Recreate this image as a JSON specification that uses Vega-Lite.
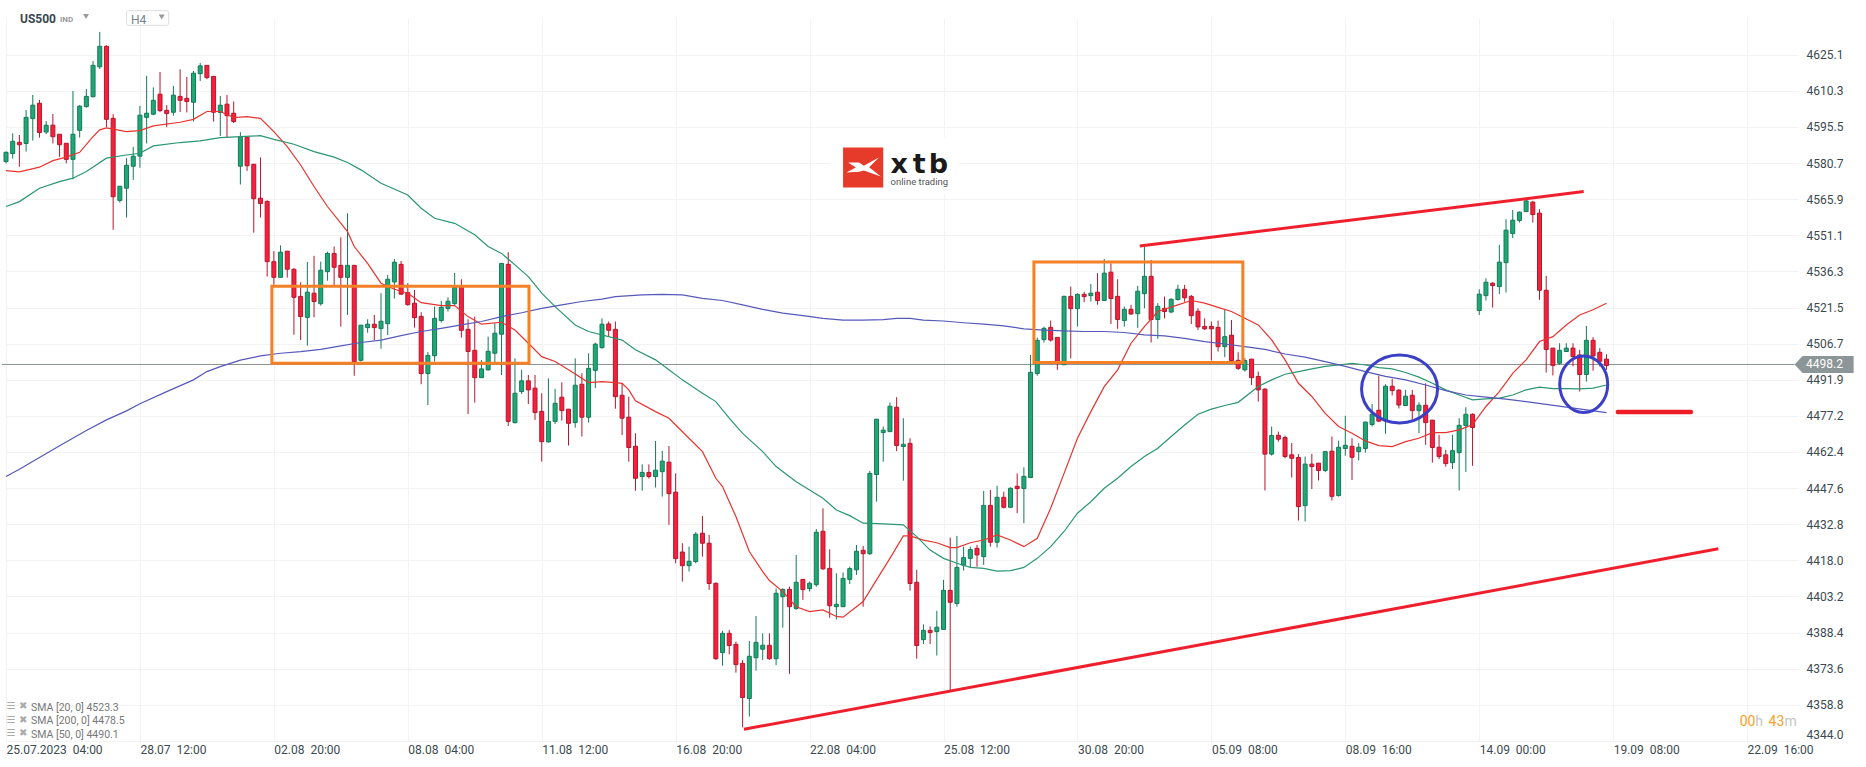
{
  "$schema": "https://vega.github.io/schema/vega-lite/v6.json",
  "width": 1792,
  "height": 723,
  "autosize": {"type": "none"},
  "padding": {"left": 6, "top": 18, "right": 68, "bottom": 26},
  "background": "#ffffff",
  "config": {
    "font": "Roboto",
    "view": {"stroke": null},
    "axis": {"domain": false, "ticks": false, "title": null, "grid": true, "gridColor": "#f3f3f3", "gridWidth": 1, "labelColor": "#3b4a50", "labelFontSize": 12, "labelFont": "Roboto"}
  },
  "datasets": {
    "candles": [
      {"i":0,"o":4581.3,"h":4585.4,"l":4580.5,"c":4585.1},{"i":1,"o":4584.6,"h":4592.9,"l":4582.5,"c":4589.6},{"i":2,"o":4589.2,"h":4592.2,"l":4579.2,"c":4588.2},{"i":3,"o":4588.7,"h":4602.4,"l":4585.4,"c":4599.4},{"i":4,"o":4598.9,"h":4608.6,"l":4589.9,"c":4604.4},
      {"i":5,"o":4605.2,"h":4606.5,"l":4591.1,"c":4593.2},{"i":6,"o":4593.4,"h":4597.9,"l":4592.6,"c":4596.2},{"i":7,"o":4596.2,"h":4600.8,"l":4588.7,"c":4591.5},{"i":8,"o":4592.5,"h":4592.5,"l":4583.2,"c":4588.2},{"i":9,"o":4588.8,"h":4588.8,"l":4580.6,"c":4582.2},
      {"i":10,"o":4582.2,"h":4610.2,"l":4574,"c":4592.5},{"i":11,"o":4594.1,"h":4604.4,"l":4591.1,"c":4604},{"i":12,"o":4603.8,"h":4611,"l":4603.4,"c":4608},{"i":13,"o":4607.9,"h":4622.5,"l":4607.5,"c":4620.7},{"i":14,"o":4620.1,"h":4634.4,"l":4619.2,"c":4628.5},
      {"i":15,"o":4628.5,"h":4628.9,"l":4595.5,"c":4598.6},{"i":16,"o":4599,"h":4600.7,"l":4553.4,"c":4566.9},{"i":17,"o":4565.4,"h":4571.3,"l":4564.5,"c":4571.2},{"i":18,"o":4570.4,"h":4582.7,"l":4558.4,"c":4579.8},{"i":19,"o":4579.4,"h":4587.3,"l":4573.8,"c":4583.5},
      {"i":20,"o":4583.5,"h":4604.1,"l":4578.8,"c":4600.3},{"i":21,"o":4599.4,"h":4616.4,"l":4588.7,"c":4601.1},{"i":22,"o":4600.7,"h":4611.7,"l":4600.3,"c":4606.4},{"i":23,"o":4608.9,"h":4618,"l":4601.5,"c":4602.2},{"i":24,"o":4602.3,"h":4604.4,"l":4595.4,"c":4601},
      {"i":25,"o":4601.5,"h":4612.3,"l":4600.1,"c":4608.5},{"i":26,"o":4608,"h":4619.1,"l":4601.6,"c":4606.4},{"i":27,"o":4607.2,"h":4616,"l":4601.4,"c":4605.9},{"i":28,"o":4605.6,"h":4618.4,"l":4597.7,"c":4617.5},{"i":29,"o":4617.3,"h":4621.7,"l":4614.3,"c":4620.5},
      {"i":30,"o":4620.7,"h":4620.7,"l":4615,"c":4615.7},{"i":31,"o":4616.2,"h":4616.2,"l":4597.7,"c":4601.5},{"i":32,"o":4601.4,"h":4608.2,"l":4591.8,"c":4604.4},{"i":33,"o":4604.8,"h":4608.6,"l":4591.1,"c":4600.1},{"i":34,"o":4601.1,"h":4605.9,"l":4597.1,"c":4597.7},
      {"i":35,"o":4579.4,"h":4593.3,"l":4571.9,"c":4591.5},{"i":36,"o":4591.3,"h":4591.5,"l":4577.5,"c":4579.6},{"i":37,"o":4580.2,"h":4580.3,"l":4552.2,"c":4566.1},{"i":38,"o":4566.3,"h":4583,"l":4558.4,"c":4564.1},{"i":39,"o":4565,"h":4565.4,"l":4534.2,"c":4540.3},
      {"i":40,"o":4540.3,"h":4544.6,"l":4530.8,"c":4533.9},{"i":41,"o":4533.9,"h":4547,"l":4533.8,"c":4544.2},{"i":42,"o":4544.6,"h":4544.6,"l":4533.8,"c":4537.2},{"i":43,"o":4537.2,"h":4537.6,"l":4510.4,"c":4525.7},{"i":44,"o":4526.1,"h":4531.9,"l":4508.2,"c":4517.8},
      {"i":45,"o":4517.5,"h":4540.2,"l":4505.9,"c":4527.8},{"i":46,"o":4527.4,"h":4542.7,"l":4517.5,"c":4524},{"i":47,"o":4523.1,"h":4540.3,"l":4522.3,"c":4536.8},{"i":48,"o":4536.2,"h":4544.4,"l":4532.5,"c":4543.7},{"i":49,"o":4543.7,"h":4546.5,"l":4530.1,"c":4538},
      {"i":50,"o":4538.8,"h":4550.3,"l":4513.7,"c":4533.9},{"i":51,"o":4533.9,"h":4560.1,"l":4518.5,"c":4538.8},{"i":52,"o":4538.8,"h":4538.8,"l":4493.6,"c":4499.4},{"i":53,"o":4499.9,"h":4514.4,"l":4499.4,"c":4514.3},{"i":54,"o":4513.3,"h":4516.7,"l":4511.2,"c":4514.7},
      {"i":55,"o":4514.7,"h":4518.5,"l":4508.2,"c":4513.3},{"i":56,"o":4512.9,"h":4527.4,"l":4504.7,"c":4515.9},{"i":57,"o":4514.9,"h":4534.9,"l":4510.3,"c":4533.1},{"i":58,"o":4532,"h":4541.4,"l":4525.2,"c":4540.1},{"i":59,"o":4539.2,"h":4540.6,"l":4526.7,"c":4527},
      {"i":60,"o":4527.6,"h":4531.5,"l":4522.3,"c":4522.7},{"i":61,"o":4523.3,"h":4528.7,"l":4513.3,"c":4517.4},{"i":62,"o":4517.9,"h":4519.6,"l":4490.1,"c":4494.5},{"i":63,"o":4494.5,"h":4503.3,"l":4481.6,"c":4501.9},{"i":64,"o":4501.8,"h":4521.9,"l":4499.4,"c":4517.1},
      {"i":65,"o":4516.2,"h":4524.2,"l":4515.4,"c":4521.6},{"i":66,"o":4521.1,"h":4525.7,"l":4519.9,"c":4524.1},{"i":67,"o":4523.1,"h":4535.7,"l":4522.6,"c":4529.8},{"i":68,"o":4529.8,"h":4533.1,"l":4509.2,"c":4512.2},{"i":69,"o":4512.6,"h":4516.7,"l":4477.9,"c":4503.5},
      {"i":70,"o":4504,"h":4517.8,"l":4482.6,"c":4492.8},{"i":71,"o":4492.8,"h":4500,"l":4492.7,"c":4496.4},{"i":72,"o":4496,"h":4509.6,"l":4495.7,"c":4503.6},{"i":73,"o":4502.8,"h":4515.1,"l":4498.7,"c":4511},{"i":74,"o":4510.6,"h":4539.6,"l":4493.9,"c":4539.6},
      {"i":75,"o":4539.2,"h":4544.2,"l":4473,"c":4474.9},{"i":76,"o":4474.4,"h":4500.7,"l":4474,"c":4486.4},{"i":77,"o":4487.1,"h":4496,"l":4486.1,"c":4491.5},{"i":78,"o":4491.5,"h":4493.9,"l":4482,"c":4487.8},{"i":79,"o":4488.5,"h":4493.9,"l":4475.5,"c":4478.5},
      {"i":80,"o":4479,"h":4486.4,"l":4458.4,"c":4466.6},{"i":81,"o":4466.5,"h":4492.5,"l":4466.2,"c":4474.9},{"i":82,"o":4474.9,"h":4488.2,"l":4473.8,"c":4482.3},{"i":83,"o":4484.8,"h":4490.9,"l":4475.2,"c":4479.3},{"i":84,"o":4479.9,"h":4479.9,"l":4465,"c":4474.1},
      {"i":85,"o":4474.4,"h":4500.7,"l":4472.3,"c":4489.7},{"i":86,"o":4490.1,"h":4494.6,"l":4468.7,"c":4476.6},{"i":87,"o":4476.6,"h":4502.8,"l":4474.4,"c":4496.6},{"i":88,"o":4495.8,"h":4507.2,"l":4488.5,"c":4506.5},{"i":89,"o":4505.1,"h":4517.1,"l":4504.7,"c":4514.7},
      {"i":90,"o":4514.8,"h":4515.8,"l":4509.6,"c":4512.2},{"i":91,"o":4512.6,"h":4515.8,"l":4480.1,"c":4485},{"i":92,"o":4485.6,"h":4490.5,"l":4469.3,"c":4476.2},{"i":93,"o":4476.6,"h":4485,"l":4458.4,"c":4464.2},{"i":94,"o":4464.7,"h":4470,"l":4446.5,"c":4451.6},
      {"i":95,"o":4452.3,"h":4457.3,"l":4446.5,"c":4454},{"i":96,"o":4454,"h":4457.3,"l":4451.5,"c":4452.3},{"i":97,"o":4452.3,"h":4466.9,"l":4447.8,"c":4454.9},{"i":98,"o":4454.3,"h":4462.8,"l":4444.1,"c":4458.6},{"i":99,"o":4458.2,"h":4464.8,"l":4432.5,"c":4445.3},
      {"i":100,"o":4445.9,"h":4453.6,"l":4416.8,"c":4418.7},{"i":101,"o":4421.4,"h":4425,"l":4409.3,"c":4415.8},{"i":102,"o":4415.8,"h":4423.6,"l":4413.4,"c":4417.6},{"i":103,"o":4417.5,"h":4429.5,"l":4416.8,"c":4428.7},{"i":104,"o":4429.1,"h":4436.2,"l":4419.5,"c":4425},
      {"i":105,"o":4425,"h":4428.4,"l":4405.9,"c":4408.5},{"i":106,"o":4408.6,"h":4408.9,"l":4377.2,"c":4377.7},{"i":107,"o":4380.2,"h":4389.1,"l":4374.9,"c":4388.1},{"i":108,"o":4388.1,"h":4389.5,"l":4379.5,"c":4383.1},{"i":109,"o":4383.6,"h":4384.7,"l":4372,"c":4375.3},
      {"i":110,"o":4375.8,"h":4377.2,"l":4349.6,"c":4361.8},{"i":111,"o":4361.4,"h":4385,"l":4354,"c":4378.7},{"i":112,"o":4378.1,"h":4395.2,"l":4372.8,"c":4384.4},{"i":113,"o":4381.6,"h":4388.1,"l":4377.2,"c":4383.2},{"i":114,"o":4383.2,"h":4388.1,"l":4377.2,"c":4377.7},
      {"i":115,"o":4377.7,"h":4406.5,"l":4375.1,"c":4404.5},{"i":116,"o":4403.1,"h":4406.5,"l":4390.4,"c":4406.1},{"i":117,"o":4406.1,"h":4407.2,"l":4371.5,"c":4399},{"i":118,"o":4398.3,"h":4420.2,"l":4397.7,"c":4409},{"i":119,"o":4410.2,"h":4410.2,"l":4401.8,"c":4406},
      {"i":120,"o":4406.4,"h":4409.3,"l":4405.2,"c":4408.6},{"i":121,"o":4408,"h":4430.8,"l":4407.2,"c":4429.5},{"i":122,"o":4429.9,"h":4439.3,"l":4414.1,"c":4414.5},{"i":123,"o":4414.7,"h":4422.5,"l":4394.5,"c":4399.4},{"i":124,"o":4399,"h":4412.7,"l":4393.8,"c":4400},
      {"i":125,"o":4399,"h":4413,"l":4398.9,"c":4410.6},{"i":126,"o":4410.2,"h":4415.4,"l":4408.3,"c":4414.6},{"i":127,"o":4414.1,"h":4424.3,"l":4412,"c":4421.7},{"i":128,"o":4422.1,"h":4423.9,"l":4399,"c":4420.7},{"i":129,"o":4420.7,"h":4454.6,"l":4420.2,"c":4453.6},
      {"i":130,"o":4453.1,"h":4475.9,"l":4442,"c":4475.8},{"i":131,"o":4470.3,"h":4472.8,"l":4458.4,"c":4471.3},{"i":132,"o":4470.7,"h":4482.6,"l":4470.6,"c":4481.1},{"i":133,"o":4480.7,"h":4484.8,"l":4462.7,"c":4465},{"i":134,"o":4464.6,"h":4476.2,"l":4450.6,"c":4465.5},
      {"i":135,"o":4465.9,"h":4468,"l":4405.6,"c":4408.5},{"i":136,"o":4409,"h":4414.1,"l":4377.7,"c":4383.1},{"i":137,"o":4385.5,"h":4391.8,"l":4383.7,"c":4389.3},{"i":138,"o":4389.3,"h":4390.9,"l":4383.7,"c":4388.4},{"i":139,"o":4388.8,"h":4397.3,"l":4379,"c":4390.6},
      {"i":140,"o":4389.7,"h":4410,"l":4389.6,"c":4405.7},{"i":141,"o":4405.7,"h":4427.3,"l":4364.2,"c":4400.8},{"i":142,"o":4400.3,"h":4428,"l":4399,"c":4415.1},{"i":143,"o":4416,"h":4423.6,"l":4413.8,"c":4419.1},{"i":144,"o":4418.8,"h":4423.6,"l":4415.1,"c":4422.4},
      {"i":145,"o":4422.9,"h":4424.3,"l":4415.4,"c":4420.2},{"i":146,"o":4419.5,"h":4446.4,"l":4416.1,"c":4440.5},{"i":147,"o":4440.5,"h":4446.8,"l":4423.6,"c":4425.4},{"i":148,"o":4425.4,"h":4448.5,"l":4423.2,"c":4443.8},{"i":149,"o":4443.8,"h":4446.1,"l":4439.3,"c":4439.7},
      {"i":150,"o":4439.7,"h":4447.9,"l":4439.6,"c":4447.5},{"i":151,"o":4448.3,"h":4453.6,"l":4437.3,"c":4447.4},{"i":152,"o":4447.4,"h":4456.1,"l":4433.2,"c":4452.4},{"i":153,"o":4451.9,"h":4502.1,"l":4451.7,"c":4495},{"i":154,"o":4494.5,"h":4509.2,"l":4493.6,"c":4508.1},
      {"i":155,"o":4508.4,"h":4513.7,"l":4507.2,"c":4513},{"i":156,"o":4513.4,"h":4516.2,"l":4507.6,"c":4508.2},{"i":157,"o":4509.3,"h":4509.3,"l":4496,"c":4499.4},{"i":158,"o":4498.1,"h":4526.4,"l":4498,"c":4526.1},{"i":159,"o":4526.1,"h":4530.1,"l":4500.7,"c":4521.1},
      {"i":160,"o":4521.1,"h":4527.4,"l":4513.7,"c":4526.9},{"i":161,"o":4526.9,"h":4528,"l":4523.7,"c":4526},{"i":162,"o":4526.4,"h":4531.2,"l":4524,"c":4527.4},{"i":163,"o":4527.8,"h":4535.6,"l":4522.7,"c":4524.4},{"i":164,"o":4524.4,"h":4541.4,"l":4524.2,"c":4535.6},
      {"i":165,"o":4536,"h":4539.6,"l":4514.8,"c":4525.2},{"i":166,"o":4526.1,"h":4533.1,"l":4512.8,"c":4516.6},{"i":167,"o":4516.2,"h":4521.9,"l":4513.7,"c":4520.8},{"i":168,"o":4520.8,"h":4522.6,"l":4518.5,"c":4518.9},{"i":169,"o":4519,"h":4530.4,"l":4513.2,"c":4528.2},
      {"i":170,"o":4527.2,"h":4546.7,"l":4521.2,"c":4534.3},{"i":171,"o":4534.3,"h":4541,"l":4507.2,"c":4516.6},{"i":172,"o":4516.6,"h":4523.3,"l":4508.7,"c":4522},{"i":173,"o":4521.2,"h":4526,"l":4517.1,"c":4519.9},{"i":174,"o":4519.7,"h":4525.3,"l":4519.2,"c":4524.9},
      {"i":175,"o":4524.8,"h":4530.8,"l":4524.4,"c":4529},{"i":176,"o":4529,"h":4530.8,"l":4523.9,"c":4525.5},{"i":177,"o":4526.1,"h":4526.7,"l":4514.8,"c":4518.2},{"i":178,"o":4520,"h":4521.2,"l":4512.3,"c":4513.6},{"i":179,"o":4513.8,"h":4517.1,"l":4512.3,"c":4512.8},
      {"i":180,"o":4513.8,"h":4515.8,"l":4499.8,"c":4512.8},{"i":181,"o":4513.4,"h":4516.2,"l":4503.5,"c":4505.5},{"i":182,"o":4505.5,"h":4520.5,"l":4501.2,"c":4509.6},{"i":183,"o":4510.2,"h":4516.4,"l":4499.4,"c":4499.8},{"i":184,"o":4499.9,"h":4503.2,"l":4496,"c":4496.6},
      {"i":185,"o":4496,"h":4500.8,"l":4495.3,"c":4499.8},{"i":186,"o":4500.4,"h":4500.5,"l":4489.8,"c":4492.8},{"i":187,"o":4493.3,"h":4495.3,"l":4483,"c":4487.8},{"i":188,"o":4488.1,"h":4488.5,"l":4446.6,"c":4461.5},{"i":189,"o":4461.5,"h":4472.8,"l":4460.9,"c":4469.1},
      {"i":190,"o":4469.2,"h":4470.7,"l":4466.6,"c":4467.6},{"i":191,"o":4468.3,"h":4469.1,"l":4459.8,"c":4460.5},{"i":192,"o":4461.2,"h":4466,"l":4451.9,"c":4459.8},{"i":193,"o":4460.1,"h":4461.5,"l":4434.3,"c":4440},{"i":194,"o":4440.4,"h":4460.5,"l":4433.9,"c":4457.4},
      {"i":195,"o":4457.4,"h":4461.6,"l":4447.2,"c":4456.4},{"i":196,"o":4457.8,"h":4457.8,"l":4450.7,"c":4454.8},{"i":197,"o":4454.8,"h":4462.8,"l":4454.1,"c":4462.5},{"i":198,"o":4462.7,"h":4468.7,"l":4442.5,"c":4444.2},{"i":199,"o":4444.5,"h":4467,"l":4444.1,"c":4464.3},
      {"i":200,"o":4463.8,"h":4477.2,"l":4460.8,"c":4465.1},{"i":201,"o":4464.7,"h":4468,"l":4450.9,"c":4460.2},{"i":202,"o":4462.5,"h":4466,"l":4458.9,"c":4464.3},{"i":203,"o":4463.8,"h":4474.8,"l":4462.1,"c":4474.6},{"i":204,"o":4473.6,"h":4482,"l":4472.8,"c":4477.8},
      {"i":205,"o":4479.5,"h":4493.7,"l":4474.6,"c":4475},{"i":206,"o":4475.2,"h":4490.1,"l":4469.8,"c":4489.3},{"i":207,"o":4489.3,"h":4492.3,"l":4485.5,"c":4487.5},{"i":208,"o":4487.7,"h":4488.1,"l":4480.2,"c":4481.6},{"i":209,"o":4481.4,"h":4487.8,"l":4481.2,"c":4485.2},
      {"i":210,"o":4485.6,"h":4487.8,"l":4475.5,"c":4479.3},{"i":211,"o":4479.3,"h":4482.7,"l":4470.1,"c":4481.5},{"i":212,"o":4481.5,"h":4490.5,"l":4465.3,"c":4474.4},{"i":213,"o":4475.4,"h":4475.5,"l":4458,"c":4464.2},{"i":214,"o":4464.3,"h":4469.4,"l":4459.4,"c":4460.5},
      {"i":215,"o":4461.2,"h":4463.2,"l":4456.4,"c":4457.6},{"i":216,"o":4458,"h":4469.4,"l":4455.4,"c":4462.9},{"i":217,"o":4462.1,"h":4476.2,"l":4446.6,"c":4473.3},{"i":218,"o":4473.2,"h":4480.7,"l":4454.2,"c":4477.8},{"i":219,"o":4477.8,"h":4478.2,"l":4456.7,"c":4472.4},
      {"i":220,"o":4520.3,"h":4529,"l":4518.5,"c":4527},{"i":221,"o":4526.4,"h":4533.5,"l":4524.4,"c":4531.9},{"i":222,"o":4531.5,"h":4531.9,"l":4521.5,"c":4530.5},{"i":223,"o":4530.1,"h":4547.2,"l":4527.1,"c":4540.1},{"i":224,"o":4539.9,"h":4557.7,"l":4527.7,"c":4553.2},
      {"i":225,"o":4551.8,"h":4561.5,"l":4550,"c":4557.3},{"i":226,"o":4557.2,"h":4560.8,"l":4556.3,"c":4560.6},{"i":227,"o":4560.8,"h":4565.6,"l":4560.7,"c":4565.2},{"i":228,"o":4564.7,"h":4565.2,"l":4556.3,"c":4559.6},{"i":229,"o":4560.2,"h":4561.8,"l":4524.7,"c":4528.6},
      {"i":230,"o":4528.6,"h":4534.5,"l":4494.9,"c":4504.3},{"i":231,"o":4504.9,"h":4504.9,"l":4493.7,"c":4497.8},{"i":232,"o":4498.7,"h":4506.9,"l":4498,"c":4504},{"i":233,"o":4503.5,"h":4506.9,"l":4503.4,"c":4504.9},{"i":234,"o":4504.9,"h":4506.9,"l":4497.4,"c":4501.4},
      {"i":235,"o":4502.1,"h":4504.2,"l":4487.1,"c":4494.1},{"i":236,"o":4494.1,"h":4514,"l":4491.2,"c":4508.1},{"i":237,"o":4508.1,"h":4509.4,"l":4495.6,"c":4501.7},{"i":238,"o":4503.2,"h":4504.9,"l":4497.4,"c":4499.5},{"i":239,"o":4500.4,"h":4502.4,"l":4496,"c":4497.8}
    ],
    "sma": [
      {"s":"20","i":0,"v":4577.6},{"s":"20","i":2,"v":4577.1},{"s":"20","i":5,"v":4579},{"s":"20","i":7,"v":4581.7},{"s":"20","i":9,"v":4583.1},{"s":"20","i":11,"v":4585.1},{"s":"20","i":13,"v":4591.5},{"s":"20","i":14,"v":4594.3},{"s":"20","i":15,"v":4595.1},{"s":"20","i":18,"v":4593.6},{"s":"20","i":20,"v":4594},{"s":"20","i":22,"v":4595.9},{"s":"20","i":26,"v":4597.4},{"s":"20","i":28,"v":4598.6},{"s":"20","i":30,"v":4601.8},{"s":"20","i":32,"v":4601.8},{"s":"20","i":34,"v":4599.3},{"s":"20","i":36,"v":4599.7},{"s":"20","i":38,"v":4599},{"s":"20","i":40,"v":4593.6},{"s":"20","i":42,"v":4587.4},{"s":"20","i":44,"v":4579.9},{"s":"20","i":46,"v":4571.1},{"s":"20","i":48,"v":4562.9},{"s":"20","i":51,"v":4552.6},{"s":"20","i":52,"v":4546.5},{"s":"20","i":54,"v":4539.6},{"s":"20","i":56,"v":4531.5},{"s":"20","i":58,"v":4529},{"s":"20","i":60,"v":4527.4},{"s":"20","i":62,"v":4523.5},{"s":"20","i":65,"v":4522.3},{"s":"20","i":67,"v":4522.3},{"s":"20","i":69,"v":4517.8},{"s":"20","i":71,"v":4514.7},{"s":"20","i":74,"v":4515.5},{"s":"20","i":76,"v":4512.3},{"s":"20","i":78,"v":4506.9},{"s":"20","i":80,"v":4501.4},{"s":"20","i":82,"v":4499.4},{"s":"20","i":84,"v":4496},{"s":"20","i":87,"v":4490.8},{"s":"20","i":89,"v":4491.2},{"s":"20","i":91,"v":4490.8},
      {"s":"20","i":92,"v":4490.5},{"s":"20","i":93,"v":4487.8},{"s":"20","i":94,"v":4483.3},{"s":"20","i":97,"v":4478.9},{"s":"20","i":99,"v":4476.2},{"s":"20","i":102,"v":4468},{"s":"20","i":104,"v":4462.5},{"s":"20","i":106,"v":4451.6},{"s":"20","i":107,"v":4448.2},{"s":"20","i":109,"v":4435.9},{"s":"20","i":111,"v":4421.6},{"s":"20","i":113,"v":4413.4},{"s":"20","i":114,"v":4409.7},{"s":"20","i":116,"v":4405.2},{"s":"20","i":118,"v":4399},{"s":"20","i":120,"v":4397},{"s":"20","i":122,"v":4397.7},{"s":"20","i":124,"v":4395},{"s":"20","i":125,"v":4394.7},{"s":"20","i":127,"v":4399},{"s":"20","i":128,"v":4401.1},{"s":"20","i":130,"v":4410},{"s":"20","i":132,"v":4418.8},{"s":"20","i":134,"v":4428},{"s":"20","i":135,"v":4428},{"s":"20","i":137,"v":4426.3},{"s":"20","i":139,"v":4425.2},{"s":"20","i":141,"v":4423.2},{"s":"20","i":142,"v":4423.2},{"s":"20","i":144,"v":4425.2},{"s":"20","i":146,"v":4426.3},{"s":"20","i":148,"v":4428.4},{"s":"20","i":150,"v":4426.3},{"s":"20","i":152,"v":4423.6},{"s":"20","i":154,"v":4427},{"s":"20","i":156,"v":4439.3},{"s":"20","i":158,"v":4453.6},{"s":"20","i":160,"v":4468},{"s":"20","i":162,"v":4478.9},{"s":"20","i":164,"v":4489.1},{"s":"20","i":166,"v":4496},{"s":"20","i":168,"v":4506.9},{"s":"20","i":170,"v":4513.7},{"s":"20","i":172,"v":4519.9},{"s":"20","i":175,"v":4522.6},{"s":"20","i":177,"v":4524.4},{"s":"20","i":179,"v":4523.3},{"s":"20","i":181,"v":4521.6},{"s":"20","i":183,"v":4519.9},
      {"s":"20","i":185,"v":4517.1},{"s":"20","i":187,"v":4514.4},{"s":"20","i":189,"v":4508.3},{"s":"20","i":191,"v":4500.1},{"s":"20","i":193,"v":4490.5},{"s":"20","i":195,"v":4485.1},{"s":"20","i":197,"v":4478.2},{"s":"20","i":199,"v":4472.8},{"s":"20","i":201,"v":4470},{"s":"20","i":203,"v":4466.9},{"s":"20","i":205,"v":4465},{"s":"20","i":207,"v":4464.6},{"s":"20","i":209,"v":4466.6},{"s":"20","i":211,"v":4468},{"s":"20","i":213,"v":4470.3},{"s":"20","i":215,"v":4470.3},{"s":"20","i":217,"v":4471.4},{"s":"20","i":219,"v":4473.5},{"s":"20","i":221,"v":4481},{"s":"20","i":223,"v":4487.1},{"s":"20","i":225,"v":4494.6},{"s":"20","i":227,"v":4500.1},{"s":"20","i":229,"v":4507.6},{"s":"20","i":231,"v":4509.6},{"s":"20","i":233,"v":4514.4},{"s":"20","i":235,"v":4518.5},{"s":"20","i":237,"v":4520.6},{"s":"20","i":239,"v":4523.3},
      {"s":"50","i":0,"v":4562.9},{"s":"50","i":2,"v":4564.9},{"s":"50","i":5,"v":4570.4},{"s":"50","i":8,"v":4573.1},{"s":"50","i":10,"v":4574.5},{"s":"50","i":12,"v":4577.2},{"s":"50","i":15,"v":4582.7},{"s":"50","i":18,"v":4584},{"s":"50","i":20,"v":4584.7},{"s":"50","i":22,"v":4587.7},{"s":"50","i":26,"v":4589.1},{"s":"50","i":29,"v":4589.8},{"s":"50","i":32,"v":4591.1},{"s":"50","i":35,"v":4591.5},{"s":"50","i":38,"v":4591.9},{"s":"50","i":40,"v":4590.4},{"s":"50","i":43,"v":4588.4},{"s":"50","i":46,"v":4585.4},{"s":"50","i":49,"v":4583.1},{"s":"50","i":51,"v":4580.9},{"s":"50","i":53,"v":4577.9},{"s":"50","i":56,"v":4572.4},{"s":"50","i":60,"v":4567.6},{"s":"50","i":62,"v":4562.2},{"s":"50","i":64,"v":4558.1},{"s":"50","i":67,"v":4556},{"s":"50","i":70,"v":4551.3},{"s":"50","i":72,"v":4546.5},{"s":"50","i":74,"v":4543.7},{"s":"50","i":76,"v":4539},{"s":"50","i":78,"v":4534.2},{"s":"50","i":80,"v":4527.4},{"s":"50","i":82,"v":4521.9},{"s":"50","i":85,"v":4514.4},{"s":"50","i":87,"v":4511.7},{"s":"50","i":91,"v":4508.9},
      {"s":"50","i":92,"v":4508.2},{"s":"50","i":94,"v":4504.2},{"s":"50","i":97,"v":4500.1},{"s":"50","i":99,"v":4496},{"s":"50","i":101,"v":4491.9},{"s":"50","i":104,"v":4486.4},{"s":"50","i":106,"v":4483},{"s":"50","i":108,"v":4476.2},{"s":"50","i":110,"v":4470},{"s":"50","i":113,"v":4462.5},{"s":"50","i":115,"v":4456.4},{"s":"50","i":118,"v":4450.2},{"s":"50","i":120,"v":4446.8},{"s":"50","i":122,"v":4443.4},{"s":"50","i":124,"v":4438.6},{"s":"50","i":126,"v":4436.3},{"s":"50","i":128,"v":4433.2},{"s":"50","i":131,"v":4432.9},{"s":"50","i":134,"v":4432.5},{"s":"50","i":136,"v":4427.7},{"s":"50","i":138,"v":4422.2},{"s":"50","i":140,"v":4418.8},{"s":"50","i":142,"v":4416.8},{"s":"50","i":144,"v":4415.1},{"s":"50","i":146,"v":4414.7},{"s":"50","i":148,"v":4413.6},{"s":"50","i":150,"v":4413.8},{"s":"50","i":152,"v":4415.1},{"s":"50","i":154,"v":4418.8},{"s":"50","i":156,"v":4423.6},{"s":"50","i":158,"v":4429.8},{"s":"50","i":160,"v":4437.3},{"s":"50","i":162,"v":4442},{"s":"50","i":164,"v":4447.5},{"s":"50","i":166,"v":4451.6},{"s":"50","i":168,"v":4456.4},{"s":"50","i":170,"v":4460.5},{"s":"50","i":172,"v":4463.9},{"s":"50","i":174,"v":4468.7},{"s":"50","i":176,"v":4473.4},{"s":"50","i":178,"v":4477.8},{"s":"50","i":180,"v":4479.9},{"s":"50","i":182,"v":4481.4},{"s":"50","i":184,"v":4482.7},
      {"s":"50","i":187,"v":4489.2},{"s":"50","i":189,"v":4491.9},{"s":"50","i":191,"v":4494.2},{"s":"50","i":193,"v":4495.3},{"s":"50","i":195,"v":4496.4},{"s":"50","i":197,"v":4497.4},{"s":"50","i":199,"v":4498},{"s":"50","i":201,"v":4498.7},{"s":"50","i":203,"v":4498},{"s":"50","i":205,"v":4496.9},{"s":"50","i":207,"v":4496.4},{"s":"50","i":209,"v":4494.9},{"s":"50","i":211,"v":4493},{"s":"50","i":213,"v":4490.5},{"s":"50","i":215,"v":4487.8},{"s":"50","i":217,"v":4485.7},{"s":"50","i":219,"v":4483.7},{"s":"50","i":221,"v":4484.1},{"s":"50","i":223,"v":4484.4},{"s":"50","i":225,"v":4485.7},{"s":"50","i":227,"v":4487.8},{"s":"50","i":229,"v":4488.9},{"s":"50","i":231,"v":4488.3},{"s":"50","i":233,"v":4488.3},{"s":"50","i":235,"v":4488.2},{"s":"50","i":237,"v":4488.5},{"s":"50","i":239,"v":4489.8},
      {"s":"200","i":0,"v":4452.3},{"s":"200","i":2,"v":4455.3},{"s":"200","i":5,"v":4460.1},{"s":"200","i":8,"v":4464.9},{"s":"200","i":12,"v":4471.2},{"s":"200","i":15,"v":4475.5},{"s":"200","i":18,"v":4479.2},{"s":"200","i":20,"v":4482.1},{"s":"200","i":24,"v":4487.1},{"s":"200","i":28,"v":4491.9},{"s":"200","i":30,"v":4495.3},{"s":"200","i":32,"v":4497.3},{"s":"200","i":35,"v":4500},{"s":"200","i":38,"v":4501.7},{"s":"200","i":41,"v":4502.8},{"s":"200","i":44,"v":4503.5},{"s":"200","i":47,"v":4504.4},{"s":"200","i":50,"v":4505.8},{"s":"200","i":53,"v":4507.2},{"s":"200","i":56,"v":4508.2},{"s":"200","i":59,"v":4510},{"s":"200","i":62,"v":4511.7},{"s":"200","i":65,"v":4513},{"s":"200","i":68,"v":4514.4},{"s":"200","i":71,"v":4515.8},{"s":"200","i":74,"v":4517.8},{"s":"200","i":77,"v":4519.4},{"s":"200","i":80,"v":4521.2},{"s":"200","i":83,"v":4522.6},{"s":"200","i":86,"v":4524},{"s":"200","i":89,"v":4525},{"s":"200","i":91,"v":4526},
      {"s":"200","i":95,"v":4526.7},{"s":"200","i":98,"v":4526.9},{"s":"200","i":101,"v":4526.7},{"s":"200","i":104,"v":4525.3},{"s":"200","i":107,"v":4524.4},{"s":"200","i":110,"v":4522.6},{"s":"200","i":113,"v":4520.8},{"s":"200","i":116,"v":4519.2},{"s":"200","i":119,"v":4518.2},{"s":"200","i":122,"v":4517.1},{"s":"200","i":125,"v":4516.4},{"s":"200","i":128,"v":4516.4},{"s":"200","i":131,"v":4516.6},{"s":"200","i":133,"v":4517.1},{"s":"200","i":135,"v":4517.1},{"s":"200","i":137,"v":4516.4},{"s":"200","i":140,"v":4516},{"s":"200","i":143,"v":4515.3},{"s":"200","i":146,"v":4514.7},{"s":"200","i":149,"v":4514},{"s":"200","i":152,"v":4512.8},{"s":"200","i":155,"v":4512.3},{"s":"200","i":158,"v":4512},{"s":"200","i":161,"v":4511.7},{"s":"200","i":164,"v":4511.7},{"s":"200","i":167,"v":4511.3},{"s":"200","i":170,"v":4510.3},{"s":"200","i":173,"v":4509.9},{"s":"200","i":176,"v":4508.9},{"s":"200","i":179,"v":4507.6},{"s":"200","i":182,"v":4506.6},{"s":"200","i":185,"v":4505.5},{"s":"200","i":188,"v":4504.4},{"s":"200","i":191,"v":4502.5},{"s":"200","i":194,"v":4501.2},{"s":"200","i":197,"v":4499.4},{"s":"200","i":200,"v":4497.4},{"s":"200","i":203,"v":4495.3},{"s":"200","i":206,"v":4493.3},{"s":"200","i":209,"v":4491.9},{"s":"200","i":212,"v":4489.8},{"s":"200","i":215,"v":4487.5},{"s":"200","i":218,"v":4485.7},{"s":"200","i":221,"v":4484.8},{"s":"200","i":224,"v":4484},{"s":"200","i":227,"v":4483},{"s":"200","i":230,"v":4481.9},{"s":"200","i":233,"v":4480.7},{"s":"200","i":236,"v":4479.6},{"s":"200","i":239,"v":4478.5}
    ],
    "boxes": [
      {"i":39.7,"i2":78.1,"v":4530.2,"v2":4498.7},
      {"i":153.5,"i2":184.7,"v":4540.2,"v2":4499}
    ],
    "trend": [
      {"line":"upper","i":169.3,"v":4546.7},{"line":"upper","i":235.6,"v":4569},
      {"line":"lower","i":110.2,"v":4348.8},{"line":"lower","i":255.7,"v":4422.7}
    ],
    "target": [
      {"i":240.7,"v":4478.7},{"i":251.6,"v":4478.7}
    ]
  },
  "encoding": {
    "x": {
      "field": "i",
      "type": "quantitative",
      "scale": {"domain": [0, 267.6], "nice": false, "zero": false, "padding": 0},
      "axis": {
        "values": [0, 20, 40, 60, 80, 100, 120, 140, 160, 180, 200, 220, 240, 260],
        "labelAlign": "left",
        "labelPadding": 3,
        "labelOverlap": false,
        "labelFlush": false,
        "labelExpr": "['25.07.2023\u00a0\u00a004:00','28.07\u00a0\u00a012:00','02.08\u00a0\u00a020:00','08.08\u00a0\u00a004:00','11.08\u00a0\u00a012:00','16.08\u00a0\u00a020:00','22.08\u00a0\u00a004:00','25.08\u00a0\u00a012:00','30.08\u00a0\u00a020:00','05.09\u00a0\u00a008:00','08.09\u00a0\u00a016:00','14.09\u00a0\u00a000:00','19.09\u00a0\u00a008:00','22.09\u00a0\u00a016:00'][datum.value/20]"
      }
    },
    "y": {
      "field": "v",
      "type": "quantitative",
      "scale": {"domain": [4344, 4640.1], "nice": false, "zero": false},
      "axis": {
        "orient": "right",
        "values": [4344, 4358.8, 4373.6, 4388.4, 4403.2, 4418, 4432.8, 4447.6, 4462.4, 4477.2, 4491.9, 4506.7, 4521.5, 4536.3, 4551.1, 4565.9, 4580.7, 4595.5, 4610.3, 4625.1],
        "format": ".1f",
        "labelPadding": 8,
        "labelOverlap": false,
        "labelFlush": false,
        "labelBaseline": {"expr": "datum.value < 4345 ? 'bottom' : 'middle'"}
      }
    }
  },
  "layer": [
    {
      "data": {"values": [{"i": 123.0, "i2": 142.3, "v": 4591.4, "v2": 4567.6}]},
      "mark": {"type": "rect", "color": "#ffffff"},
      "encoding": {"x2": {"field": "i2"}, "y2": {"field": "v2"}}
    },
    {
      "data": {"values": [{"i": 125.0, "i2": 131.0, "v": 4587.1, "v2": 4570.7}]},
      "mark": {"type": "rect", "color": "#e63b2a"},
      "encoding": {"x2": {"field": "i2"}, "y2": {"field": "v2"}}
    },
    {
      "data": {"values": [{"i": 128.0, "v": 4579}]},
      "mark": {"type": "point", "filled": true, "opacity": 1, "color": "#ffffff", "size": 1111, "shape": "M-0.9,-0.28L-0.24,-0.28L0.04,-0.08L0.96,-0.6L0.36,0L1.06,0.56L0.04,0.2L-0.24,0.28L-1,0.32L-0.44,0.02Z"}
    },
    {
      "data": {"values": [{"i": 132.1, "v": 4576.6, "t": "x"}, {"i": 135.4, "v": 4576.6, "t": "t"}, {"i": 137.8, "v": 4576.6, "t": "b"}]},
      "mark": {"type": "text", "font": "DejaVu Sans", "fontWeight": "bold", "fontSize": 27, "align": "left", "baseline": "alphabetic", "color": "#1a1a1a"},
      "encoding": {"text": {"field": "t"}}
    },
    {
      "data": {"values": [{"i": 132.1, "v": 4573.1, "t": "online trading"}]},
      "mark": {"type": "text", "fontSize": 9.5, "align": "left", "baseline": "middle", "color": "#555555"},
      "encoding": {"text": {"field": "t"}}
    },
    {
      "data": {"values": [{"i": -0.6, "i2": 267.1, "v": 4498.2}]},
      "mark": {"type": "rule", "color": "#8a9294", "strokeWidth": 1},
      "encoding": {"x2": {"field": "i2"}}
    },
    {
      "data": {"name": "candles"},
      "mark": {"type": "rule", "strokeWidth": 1},
      "encoding": {
        "y": {"field": "l", "type": "quantitative"},
        "y2": {"field": "h"},
        "color": {"condition": {"test": "datum.c >= datum.o", "value": "#14795a"}, "value": "#b3172e"}
      }
    },
    {
      "data": {"name": "candles"},
      "mark": {"type": "bar", "size": 4, "strokeWidth": 1},
      "encoding": {
        "y": {"field": "o", "type": "quantitative"},
        "y2": {"field": "c"},
        "fill": {"condition": {"test": "datum.c >= datum.o", "value": "#1fa873"}, "value": "#f6203c"},
        "stroke": {"condition": {"test": "datum.c >= datum.o", "value": "#14795a"}, "value": "#b3172e"}
      }
    },
    {
      "data": {"name": "sma"},
      "mark": {"type": "line", "strokeWidth": 1.2, "interpolate": "linear"},
      "encoding": {
        "color": {"field": "s", "type": "nominal", "legend": null, "scale": {"domain": ["20", "50", "200"], "range": ["#e8342f", "#2b9672", "#5559ba"]}}
      }
    },
    {
      "data": {"name": "boxes"},
      "mark": {"type": "rect", "fillOpacity": 0, "stroke": "#f58025", "strokeWidth": 3},
      "encoding": {"x2": {"field": "i2"}, "y2": {"field": "v2"}}
    },
    {
      "data": {"name": "trend"},
      "mark": {"type": "line", "color": "#f01f2d", "strokeWidth": 3},
      "encoding": {"detail": {"field": "line"}}
    },
    {
      "data": {"name": "target"},
      "mark": {"type": "line", "color": "#ee1c25", "strokeWidth": 4.5, "strokeCap": "round"},
      "encoding": {}
    },
    {
      "data": {"values": [{"i": 208.1, "v": 4488.2}]},
      "mark": {"type": "point", "filled": false, "opacity": 1, "stroke": "#3c40c6", "strokeWidth": 3, "size": 5776, "shape": "M-1,0A1,0.895,0,1,0,1,0A1,0.895,0,1,0,-1,0Z"}
    },
    {
      "data": {"values": [{"i": 235.6, "v": 4490.1}]},
      "mark": {"type": "point", "filled": false, "opacity": 1, "stroke": "#3c40c6", "strokeWidth": 3, "size": 2304, "shape": "M-1,0A1,1.18,0,1,0,1,0A1,1.18,0,1,0,-1,0Z"}
    },
    {
      "data": {"values": [{"i": 271.5, "v": 4498.2}]},
      "mark": {"type": "point", "filled": true, "opacity": 1, "color": "#8c9698", "size": 3481, "shape": "M-1,0L-0.73,-0.288L1,-0.288L1,0.288L-0.73,0.288Z"}
    },
    {
      "data": {"values": [{"i": 268.8, "v": 4498.2, "t": "4498.2"}]},
      "mark": {"type": "text", "fontSize": 12, "align": "left", "baseline": "middle", "color": "#ffffff"},
      "encoding": {"text": {"field": "t"}}
    },
    {
      "data": {"values": [{"i": 2.09, "v": 4639.7, "t": "US500"}]},
      "mark": {"type": "text", "fontSize": 12, "fontWeight": "bold", "align": "left", "baseline": "middle", "color": "#37474f"},
      "encoding": {"text": {"field": "t"}}
    },
    {
      "data": {"values": [{"i": 8.06, "v": 4639.3, "t": "IND"}]},
      "mark": {"type": "text", "fontSize": 8, "fontWeight": "bold", "align": "left", "baseline": "middle", "color": "#9a9a9a"},
      "encoding": {"text": {"field": "t"}}
    },
    {
      "data": {"values": [{"i": 18.0, "i2": 24.3, "v": 4643.1, "v2": 4637.1}]},
      "mark": {"type": "rect", "fill": "#ffffff", "stroke": "#dddddd", "strokeWidth": 1, "cornerRadius": 2},
      "encoding": {"x2": {"field": "i2"}, "y2": {"field": "v2"}}
    },
    {
      "data": {"values": [{"i": 18.67, "v": 4639.3, "t": "H4"}]},
      "mark": {"type": "text", "fontSize": 12, "align": "left", "baseline": "middle", "color": "#78848a"},
      "encoding": {"text": {"field": "t"}}
    },
    {
      "data": {"values": [{"i": 11.95, "v": 4640.7}, {"i": 23.25, "v": 4640.5}]},
      "mark": {"type": "point", "shape": "triangle-down", "filled": true, "opacity": 1, "color": "#999999", "size": 35}
    },
    {
      "data": {"values": [{"i": 3.73, "v": 4357.5, "t": "SMA  [20,  0]  4523.3"}, {"i": 3.73, "v": 4352.1, "t": "SMA  [200,  0]  4478.5"}, {"i": 3.73, "v": 4346.5, "t": "SMA  [50,  0]  4490.1"}]},
      "mark": {"type": "text", "fontSize": 10.5, "align": "left", "baseline": "middle", "color": "#777777"},
      "encoding": {"text": {"field": "t"}}
    },
    {
      "data": {"values": [{"i": 0.75, "v": 4358.3, "t": "☰"}, {"i": 0.75, "v": 4352.8, "t": "☰"}, {"i": 0.75, "v": 4347.3, "t": "☰"}, {"i": 2.58, "v": 4358.3, "t": "✖"}, {"i": 2.58, "v": 4352.8, "t": "✖"}, {"i": 2.58, "v": 4347.3, "t": "✖"}]},
      "mark": {"type": "text", "font": "DejaVu Sans", "fontSize": 10, "align": "center", "baseline": "middle", "color": "#aaaaaa"},
      "encoding": {"text": {"field": "t"}}
    },
    {
      "data": {"values": [{"i": 258.9, "v": 4351.8, "t": "00"}, {"i": 263.2, "v": 4351.8, "t": "43"}]},
      "mark": {"type": "text", "fontSize": 14, "align": "left", "baseline": "middle", "color": "#f7a128"},
      "encoding": {"text": {"field": "t"}}
    },
    {
      "data": {"values": [{"i": 261.2, "v": 4351.8, "t": "h"}, {"i": 265.6, "v": 4351.8, "t": "m"}]},
      "mark": {"type": "text", "fontSize": 14, "align": "left", "baseline": "middle", "color": "#c4c4c4"},
      "encoding": {"text": {"field": "t"}}
    }
  ]
}
